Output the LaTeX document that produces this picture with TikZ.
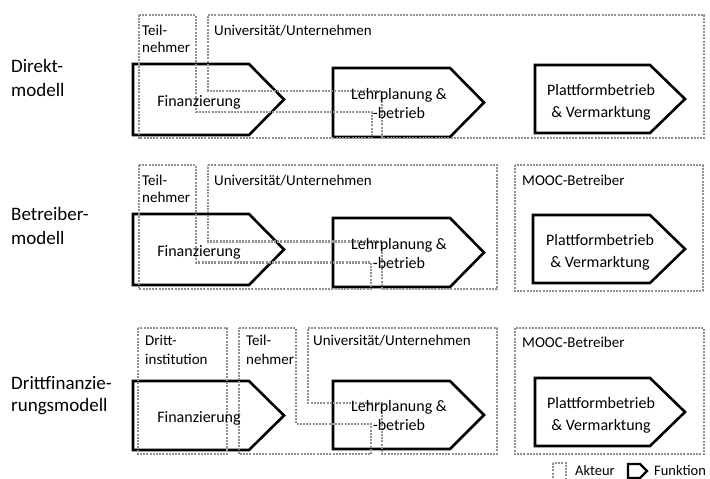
\documentclass[tikz,border=0pt]{standalone}
\usepackage{fontspec}
\setmainfont{Carlito}
\definecolor{actorgray}{RGB}{145,145,145}
\tikzset{
  actor/.style={draw=actorgray, line width=2.3pt, dash pattern=on 2pt off 1.2pt, line join=miter},
  func/.style={draw=black, line width=2.6pt, fill=white, line join=miter},
  alabel/.style={anchor=base west, inner sep=0pt, font=\fontsize{15}{17}\selectfont, align=left},
  ftext/.style={anchor=base, inner sep=0pt, font=\fontsize{16}{19}\selectfont, align=center},
  rowlabel/.style={anchor=base west, inner sep=0pt, font=\fontsize{19}{24}\selectfont, align=left},
  legtext/.style={anchor=base west, inner sep=0pt, font=\fontsize{14.5}{17}\selectfont}
}
\begin{document}
\begin{tikzpicture}[x=1pt, y=-1pt]
\useasboundingbox (0,0) rectangle (710,479);

% ---------- functions (drawn first, actors overlay) ----------
% Row 1
\draw[func] (133,64) -- (249,64) -- (284,99.5) -- (249,135) -- (133,135) -- cycle;
\draw[func] (333,68) -- (450,68) -- (484,102.5) -- (450,137) -- (333,137) -- cycle;
\draw[func] (535,65) -- (650,65) -- (685,99) -- (650,133) -- (535,133) -- cycle;
% Row 2
\draw[func] (133,214) -- (249,214) -- (284,249.5) -- (249,285) -- (133,285) -- cycle;
\draw[func] (333,218) -- (450,218) -- (484,252.5) -- (450,287) -- (333,287) -- cycle;
\draw[func] (533,215) -- (650,215) -- (685,249) -- (650,283) -- (533,283) -- cycle;
% Row 3
\draw[func] (133,381) -- (249,381) -- (284,415.5) -- (249,450) -- (133,450) -- cycle;
\draw[func] (333,381) -- (450,381) -- (484,415) -- (450,449) -- (333,449) -- cycle;
\draw[func] (535,378) -- (650,378) -- (685,412) -- (650,446) -- (535,446) -- cycle;

% ---------- actors ----------
% Row 1
\draw[actor] (139,15) -- (196,15) -- (196,112) -- (372,112) -- (372,138) -- (139,138) -- cycle;
\draw[actor] (208,15) -- (704,15) -- (704,138) -- (382,138) -- (382,91) -- (208,91) -- cycle;
% Row 2
\draw[actor] (139,165) -- (196,165) -- (196,262.5) -- (371,262.5) -- (371,289) -- (139,289) -- cycle;
\draw[actor] (208,165) -- (497,165) -- (497,289) -- (382,289) -- (382,241.5) -- (208,241.5) -- cycle;
\draw[actor] (515,165) rectangle (703,291);
% Row 3
\draw[actor] (138,328) rectangle (227,454);
\draw[actor] (239,328) -- (296,328) -- (296,424) -- (371,424) -- (371,454) -- (239,454) -- cycle;
\draw[actor] (308,328) -- (497,328) -- (497,454) -- (382,454) -- (382,403) -- (308,403) -- cycle;
\draw[actor] (515,328) rectangle (704,454);

% ---------- row labels ----------
\node[rowlabel] (r1a) at (11,72) {Direkt-};
\node[rowlabel] (r1b) at (11,96) {modell};
\node[rowlabel] (r2a) at (11,220) {Betreiber-};
\node[rowlabel] (r2b) at (11,244) {modell};
\node[rowlabel] (r3a) at (11,389) {Drittfinanzie-};
\node[rowlabel] (r3b) at (11,411) {rungsmodell};

% ---------- actor labels ----------
\node[alabel] (tn1a) at (142,35) {Teil-};
\node[alabel] (tn1b) at (142,52) {nehmer};
\node[alabel] (un1) at (214,35) {Universität/Unternehmen};

\node[alabel] (tn2a) at (142,185) {Teil-};
\node[alabel] (tn2b) at (142,202) {nehmer};
\node[alabel] (un2) at (214,185) {Universität/Unternehmen};
\node[alabel] (mo2) at (522,185) {MOOC-Betreiber};

\node[alabel] (dr3a) at (145,345) {Dritt-};
\node[alabel] (dr3b) at (145,364) {institution};
\node[alabel] (tn3a) at (246,345) {Teil-};
\node[alabel] (tn3b) at (246,364) {nehmer};
\node[alabel] (un3) at (313,345) {Universität/Unternehmen};
\node[alabel] (mo3) at (522,347) {MOOC-Betreiber};

% ---------- function labels ----------
\node[ftext] (f1) at (199,106) {Finanzierung};
\node[ftext] (l1a) at (399,99) {Lehrplanung \&};
\node[ftext] (l1b) at (399,118) {-betrieb};
\node[ftext] (p1a) at (601,95) {Plattformbetrieb};
\node[ftext] (p1b) at (601,117) {\& Vermarktung};

\node[ftext] (f2) at (199,256) {Finanzierung};
\node[ftext] (l2a) at (399,249) {Lehrplanung \&};
\node[ftext] (l2b) at (399,268) {-betrieb};
\node[ftext] (p2a) at (600,245) {Plattformbetrieb};
\node[ftext] (p2b) at (600,267) {\& Vermarktung};

\node[ftext] (f3) at (199,422.5) {Finanzierung};
\node[ftext] (l3a) at (399,411.5) {Lehrplanung \&};
\node[ftext] (l3b) at (399,430.5) {-betrieb};
\node[ftext] (p3a) at (601,408) {Plattformbetrieb};
\node[ftext] (p3b) at (601,430) {\& Vermarktung};

% ---------- legend ----------
\draw[actor, line width=1.4pt] (553,463) rectangle (566,484);
\node[legtext] (leg1) at (575,475) {Akteur};
\draw[draw=black, line width=2.2pt, line join=miter] (628,464) -- (640,464) -- (647,471) -- (640,478) -- (628,478) -- cycle;
\node[legtext] (leg2) at (654,475) {Funktion};
\end{tikzpicture}
\end{document}
